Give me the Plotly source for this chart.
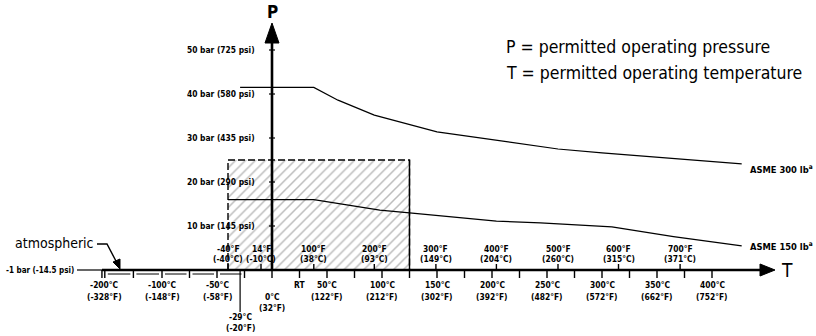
import plotly.graph_objects as go

# ---------------- data ----------------
asme300_T = [-29, 38, 60, 93, 150, 190, 260, 300, 385, 427]
asme300_P = [41.5, 41.5, 38.6, 35.2, 31.4, 30.0, 27.5, 26.6, 25.0, 24.1]
asme150_T = [-40, 38, 68, 98, 125, 204, 244, 309, 365, 427]
asme150_P = [16.0, 16.0, 14.8, 13.6, 13.0, 11.1, 10.7, 9.8, 7.6, 5.5]
box_T = [-40, 125]
box_P = [0, 25]

c_ticks = [-200, -100, -50, 50, 100, 150, 200, 250, 300, 350, 400]
c_labels = ["-200°C<br>(-328°F)", "-100°C<br>(-148°F)", "-50°C<br>(-58°F)",
            "50°C<br>(122°F)", "100°C<br>(212°F)", "150°C<br>(302°F)",
            "200°C<br>(392°F)", "250°C<br>(482°F)", "300°C<br>(572°F)",
            "350°C<br>(662°F)", "400°C<br>(752°F)"]
c_minor = [-150, -75, -25, 75, 125, 175, 225, 275, 325, 375]
zero_T, zero_label = 0, "0°C<br>(32°F)"
rt_T, rt_label = 25, "RT"
low_T, low_label = -29, "-29°C<br>(-20°F)"
f_ticks_c = [-40, -10, 38, 93, 149, 204, 260, 315, 371]
f_labels = ["-40°F<br>(-40°C)", "14°F<br>(-10°C)", "100°F<br>(38°C)",
            "200°F<br>(93°C)", "300°F<br>(149°C)", "400°F<br>(204°C)",
            "500°F<br>(260°C)", "600°F<br>(315°C)", "700°F<br>(371°C)"]
p_ticks = [10, 20, 30, 40, 50]
p_labels = ["10 bar (145 psi)", "20 bar (290 psi)", "30 bar (435 psi)",
            "40 bar (580 psi)", "50 bar (725 psi)"]
p_base_label = "-1 bar (-14.5 psi)"

FONT = "DejaVu Sans Condensed, DejaVu Sans, sans-serif"
SMALL = 8.4


def tx(c):
    """broken temperature scale: compressed below -100 °C"""
    return c if c >= -100 else -100 + (c + 100) * 0.52


# pixel helpers for decoration sizes (px -> data)
SX = 1.1   # px per x unit
SY = 4.4   # px per bar
X0 = -272 / SX
X1 = (816 - 272) / SX
Y0 = -(336 - 270) / SY
Y1 = 270 / SY

fig = go.Figure()

# hatched permitted area
bx = [tx(box_T[0]), tx(box_T[0]), tx(box_T[1]), tx(box_T[1]), tx(box_T[0])]
by = [box_P[0], box_P[1], box_P[1], box_P[0], box_P[0]]
fig.add_trace(go.Scatter(
    x=bx, y=by, mode="lines", fill="toself",
    fillpattern=dict(shape="/", fgcolor="#7a7a7a", bgcolor="white",
                     size=7, solidity=0.22),
    line=dict(color="black", width=1.4, dash="7px,3px"),
    hoverinfo="skip", showlegend=False))

# ASME curves
fig.add_trace(go.Scatter(x=[tx(t) for t in asme300_T], y=asme300_P, mode="lines",
                         line=dict(color="black", width=1.2), showlegend=False))
fig.add_trace(go.Scatter(x=[tx(t) for t in asme150_T], y=asme150_P, mode="lines",
                         line=dict(color="black", width=1.2), showlegend=False))

shapes = []
ann = []


def line(x0, y0, x1, y1, w=1.2):
    shapes.append(dict(type="line", xref="x", yref="y", x0=x0, y0=y0, x1=x1, y1=y1,
                       line=dict(color="black", width=w)))


def text(x, y, s, size=SMALL, bold=True, xa="center", ya="middle"):
    ann.append(dict(x=x, y=y, xref="x", yref="y", text=s, showarrow=False,
                    xanchor=xa, yanchor=ya, align="center",
                    font=dict(family=FONT, size=size, color="black",
                              weight="bold" if bold else "normal")))


def text2(x, y1px, y2px, s, size=SMALL):
    """two-line label, each line placed at its own pixel row"""
    a, b = s.split("<br>")
    text(x, (270 - y1px) / SY, a, size=size)
    text(x, (270 - y2px) / SY, b, size=size)


# right edge of box solid
line(tx(box_T[1]), 0, tx(box_T[1]), box_P[1], 1.4)

# T axis
t_start = tx(-205)
t_end = (760 - 272) / SX
line((77 - 272) / SX, 0, t_start, 0, 1.2)
line(t_start, 0, t_end, 0, 2.6)
tip = (775 - 272) / SX
hh = 6 / SY
shapes.append(dict(type="path", xref="x", yref="y",
                   path=f"M {t_end} {hh} L {tip} 0 L {t_end} {-hh} Z",
                   fillcolor="black", line=dict(color="black", width=1)))
text((779 - 272) / SX, 0, "T", size=19, bold=False, xa="left")

# double line under compressed part
neg_ticks = sorted([tx(t) for t in [-205, -200, -150, -100, -75, -50, -25]])
yy = -4 / SY
for a, b in zip(neg_ticks[:-1], neg_ticks[1:]):
    if b - a > 5 / SX:
        line(a + 3 / SX, yy, b - 3 / SX, yy, 1)

# C ticks and labels
tick_dn = -8 / SY
for t, lab in zip(c_ticks, c_labels):
    line(tx(t), 0, tx(t), tick_dn, 1.4)
    text2(tx(t), 285, 297, lab)
for t in c_minor + [-205]:
    line(tx(t), 0, tx(t), tick_dn, 1.4)
line(tx(zero_T), 0, tx(zero_T), tick_dn, 1.4)
text2(tx(zero_T), 297, 308, zero_label)
line(tx(rt_T), 0, tx(rt_T), tick_dn, 1.4)
text(tx(rt_T), (270 - 285) / SY, rt_label)
line(tx(low_T), 0, tx(low_T), -42 / SY, 1.2)
text2(tx(low_T), 317, 328, low_label)

# F ticks and labels
for t, lab in zip(f_ticks_c, f_labels):
    line(tx(t), 0, tx(t), 6 / SY, 1.4)
    text2(tx(t), 249, 259, lab)

# P axis
p_top = (270 - 43) / SY
line(0, 0, 0, p_top, 2.6)
ptip = (270 - 23) / SY
hw = 7 / SX
shapes.append(dict(type="path", xref="x", yref="y",
                   path=f"M {-hw} {p_top} L 0 {ptip} L {hw} {p_top} Z",
                   fillcolor="black", line=dict(color="black", width=1)))
text(0, (270 - 12) / SY, "P", size=17)
for p, lab in zip(p_ticks, p_labels):
    line(-3 / SX, p, 3 / SX, p, 1.2)
    text(-15 / SX, p, lab, xa="right")
text((76 - 272) / SX, 0, p_base_label, size=8, xa="right")

# atmospheric note
text((54 - 272) / SX, (270 - 243) / SY, "atmospheric", size=14, bold=False)
ax0, ay0 = (97 - 272) / SX, (270 - 244) / SY
ax1, ay1 = (107 - 272) / SX, (270 - 244) / SY
ax2, ay2 = (117 - 272) / SX, (270 - 263) / SY
shapes.append(dict(type="path", xref="x", yref="y",
                   path=f"M {ax0} {ay0} L {ax1} {ay1} L {ax2} {ay2}",
                   line=dict(color="black", width=1.4)))
shapes.append(dict(type="path", xref="x", yref="y",
                   path=(f"M {(113 - 272) / SX} {(270 - 262) / SY} "
                         f"L {(120 - 272) / SX} {(270 - 269) / SY} "
                         f"L {(120 - 272) / SX} {(270 - 259) / SY} Z"),
                   fillcolor="black", line=dict(color="black", width=1)))

# curve labels
text((748 - 272) / SX, (270 - 169) / SY, "ASME 300 lb<sup>a</sup>", size=9.3, xa="left")
text((748 - 272) / SX, (270 - 246) / SY, "ASME 150 lb<sup>a</sup>", size=9.3, xa="left")

# explanation text
text((504 - 272) / SX, (270 - 47) / SY, "P = permitted operating pressure", size=17.5, bold=False, xa="left")
text((504 - 272) / SX, (270 - 73) / SY, "T = permitted operating temperature", size=17.5, bold=False, xa="left")

fig.update_layout(
    width=816, height=336,
    margin=dict(l=0, r=0, t=0, b=0),
    paper_bgcolor="white", plot_bgcolor="white",
    xaxis=dict(visible=False, range=[X0, X1]),
    yaxis=dict(visible=False, range=[Y0, Y1]),
    shapes=shapes, annotations=ann, showlegend=False,
)

fig.write_html("out.html", config={"displayModeBar": False},
               post_script="document.body.style.margin='0';document.body.style.overflow='hidden';")
